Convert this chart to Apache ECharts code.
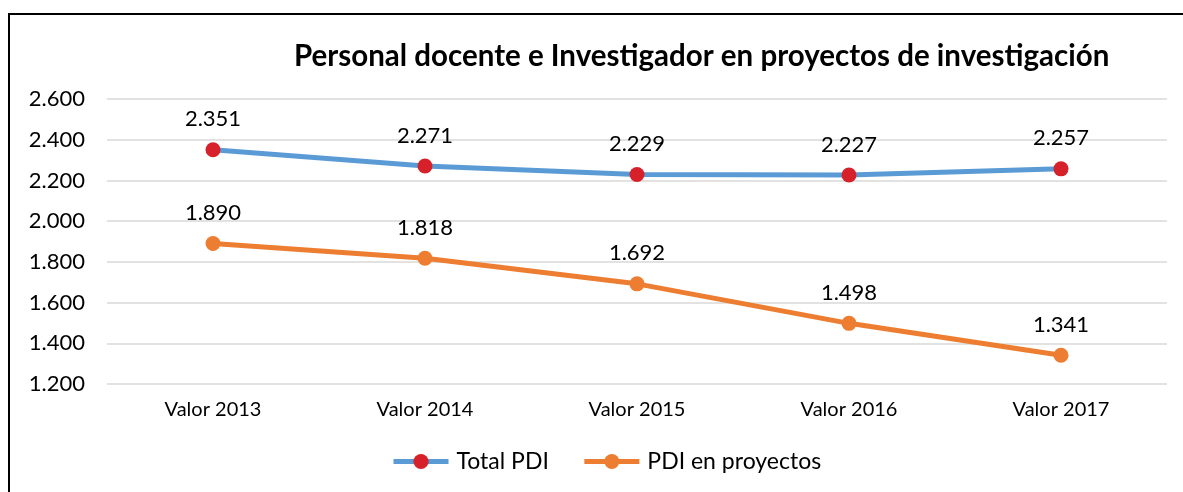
<!DOCTYPE html>
<html>
<head>
<meta charset="utf-8">
<script src="https://cdn.jsdelivr.net/npm/echarts@6/dist/echarts.min.js"></script>
<style>
  html, body { margin: 0; padding: 0; background: #fff; }
  #chart { width: 1183px; height: 492px; }
</style>
</head>
<body>
<div id="chart"></div>
<script>
const categories = ['Valor 2013', 'Valor 2014', 'Valor 2015', 'Valor 2016', 'Valor 2017']
const totalPdi = [2351, 2271, 2229, 2227, 2257]
const pdiProyectos = [1890, 1818, 1692, 1498, 1341]

const FONT = 'Lato'

// 2351 -> "2.351"
function fmt(v) {
  return (v / 1000).toFixed(3)
}

const chart = echarts.init(document.getElementById('chart'))

const option = {
  backgroundColor: '#fff',
  animation: false,
  textStyle: { fontFamily: FONT, color: '#000' },
  title: {
    text: 'Personal docente e Investigador en proyectos de investigación',
    left: 289,
    top: 36,
    textStyle: { fontFamily: FONT, fontSize: 29.5, fontWeight: 'bold', color: '#000' }
  },
  graphic: [
    {
      type: 'rect',
      shape: { x: 9, y: 14, width: 1300, height: 700 },
      style: { fill: 'none', stroke: '#000', lineWidth: 2 },
      silent: true
    }
  ],
  legend: {
    bottom: 14,
    left: 386,
    itemWidth: 55,
    itemHeight: 19,
    itemGap: 33,
    lineStyle: { width: 5 },
    textStyle: { fontFamily: FONT, fontSize: 23, color: '#000', padding: [0, 0, 0, 3] },
    data: ['Total PDI', 'PDI en proyectos']
  },
  grid: {
    left: 107,
    right: 16,
    top: 99,
    bottom: 108
  },
  xAxis: {
    type: 'category',
    data: categories,
    axisLine: { show: false },
    axisTick: { show: false },
    axisLabel: { fontFamily: FONT, fontSize: 20, color: '#000', margin: 16 }
  },
  yAxis: {
    type: 'value',
    min: 1200,
    max: 2600,
    interval: 200,
    axisLine: { show: false },
    axisTick: { show: false },
    axisLabel: { fontFamily: FONT, fontSize: 22, color: '#000', margin: 22, formatter: fmt },
    splitLine: { lineStyle: { color: '#d9d9d9', width: 1.5 } }
  },
  series: [
    {
      name: 'Total PDI',
      type: 'line',
      data: totalPdi,
      symbol: 'circle',
      symbolSize: 15,
      lineStyle: { color: '#5B9BD5', width: 5 },
      itemStyle: { color: '#D6202A' },
      label: {
        show: true,
        position: 'top',
        distance: 12,
        fontFamily: FONT,
        fontSize: 22,
        color: '#000',
        formatter: p => fmt(p.value)
      }
    },
    {
      name: 'PDI en proyectos',
      type: 'line',
      data: pdiProyectos,
      symbol: 'circle',
      symbolSize: 15,
      lineStyle: { color: '#ED7D31', width: 5 },
      itemStyle: { color: '#ED7D31' },
      label: {
        show: true,
        position: 'top',
        distance: 12,
        fontFamily: FONT,
        fontSize: 22,
        color: '#000',
        formatter: p => fmt(p.value)
      }
    }
  ]
}

chart.setOption(option)
</script>
</body>
</html>
